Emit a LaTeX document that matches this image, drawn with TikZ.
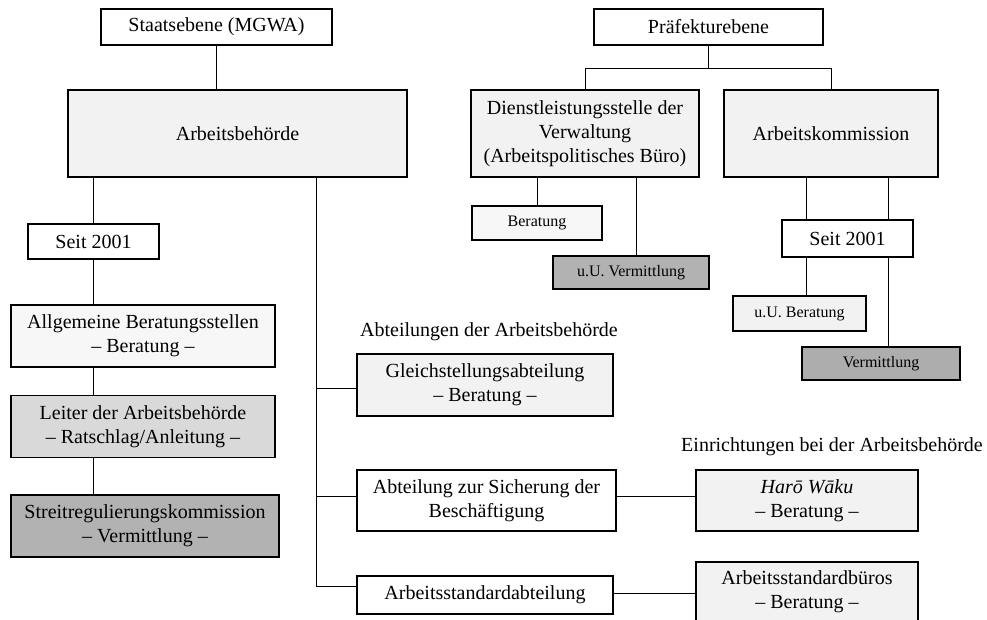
\documentclass[tikz,border=0pt]{standalone}
\usepackage{fontspec}
\setmainfont{Liberation Serif}
\usetikzlibrary{positioning,calc}
\definecolor{hellgrau}{gray}{0.95}
\definecolor{weissgrau}{gray}{0.97}
\definecolor{mittelgrau}{gray}{0.85}
\definecolor{dunkelgrau}{gray}{0.70}
\tikzset{
  amt/.style={
    rectangle,
    draw=black, line width=1.6pt,
    align=center,
    inner sep=2pt,
    font=\fontsize{20}{24}\selectfont},
  kleinamt/.style={amt, font=\fontsize{16}{19}\selectfont},
  linie/.style={draw, line width=0.9pt},
  beschriftung/.style={font=\fontsize{20}{24}\selectfont, inner sep=0pt},
}
\begin{document}
\begin{tikzpicture}[
    x=1pt, y=-1pt,
    gross/.style={amt, minimum width=#1, minimum height=87pt},
    mittel/.style={amt, minimum width=#1, minimum height=62pt},
    flach/.style={amt, minimum width=#1, minimum height=36pt},
    every node/.style={color=black}
    ]
    \useasboundingbox (0,0) rectangle (987,619);
    \clip (0,0) rectangle (987,619);

    % staatsebene
    \node[flach=231pt] (staat) at (216.5,27) {Staatsebene (MGWA)};
    \node[gross=339pt, fill=hellgrau] (behoerde) at (237.5,133.5) {Arbeitsbeh\"orde};
    \node[flach=131pt, minimum height=35pt] (seitL) at (93.5,241.5) {Seit 2001};
    \node[mittel=264pt, fill=weissgrau] (allg) at (143,336) {Allgemeine Beratungsstellen\\– Beratung –};
    \node[mittel=264pt, fill=mittelgrau] (leiter) at (143,426.5) {Leiter der Arbeitsbeh\"orde\\– Ratschlag/Anleitung –};
    \node[mittel=268pt, fill=dunkelgrau] (streit) at (145,526) {Streitregulierungskommission\\– Vermittlung –};

    % abteilungen
    \node[beschriftung] (abtlabel) at (489,332) {Abteilungen der Arbeitsbeh\"orde};
    \node[mittel=256pt, fill=hellgrau] (gleich) at (485,385) {Gleichstellungsabteilung\\– Beratung –};
    \node[mittel=259pt, minimum height=61pt] (sicher) at (486.5,500.5) {Abteilung zur Sicherung der\\Besch\"aftigung};
    \node[amt, minimum width=256pt, minimum height=38pt] (standard) at (485,595) {Arbeitsstandardabteilung};

    % einrichtungen
    \node[beschriftung] (einlabel) at (832,447) {Einrichtungen bei der Arbeitsbeh\"orde};
    \node[mittel=222pt, minimum height=61pt, fill=hellgrau] (harou) at (807,500.5) {\textit{Harō Wāku}\\– Beratung –};
    \node[mittel=222pt, minimum height=59pt, fill=hellgrau, anchor=north] (bueros) at (807,561) {Arbeitsstandardb\"uros\\– Beratung –};

    % praefekturebene
    \node[flach=229pt] (praef) at (708.5,27) {Pr\"afekturebene};
    \node[gross=228pt, fill=hellgrau] (dienst) at (585,133.5) {Dienstleistungsstelle der\\Verwaltung\\(Arbeitspolitisches B\"uro)};
    \node[gross=214pt, fill=hellgrau] (kommission) at (831,133.5) {Arbeitskommission};
    \node[kleinamt, minimum width=130pt, minimum height=34pt, fill=weissgrau] (beratD) at (537,223) {Beratung};
    \node[kleinamt, minimum width=156pt, minimum height=33pt, fill=dunkelgrau] (vermD) at (631,272.5) {u.U. Vermittlung};
    \node[flach=131pt, minimum height=37pt] (seitR) at (847.5,238.5) {Seit 2001};
    \node[kleinamt, minimum width=133pt, minimum height=35pt, fill=hellgrau] (uuberat) at (799.5,313.5) {u.U. Beratung};
    \node[kleinamt, minimum width=158pt, minimum height=33pt, fill=dunkelgrau!97!black] (vermK) at (881,363.5) {Vermittlung};

    % linien links
    \draw[linie] (staat.south) -- (staat.south |- behoerde.north);
    \draw[linie] (seitL.north) -- (seitL.north |- behoerde.south);
    \draw[linie] (seitL.south) -- (seitL.south |- allg.north);
    \draw[linie] (allg.south -| seitL) -- (leiter.north -| seitL);
    \draw[linie] (leiter.south -| seitL) -- (streit.north -| seitL);

    % stamm der abteilungen
    \coordinate (stamm) at (316,586);
    \draw[linie] (behoerde.south -| stamm) -- (stamm) -- (stamm -| standard.west);
    \draw[linie] ($(stamm |- gleich.west)+(0,3)$) -- ($(gleich.west)+(0,3)$);
    \draw[linie] ($(stamm |- sicher.west)+(0,-4)$) -- ($(sicher.west)+(0,-4)$);
    \draw[linie] ($(sicher.east)+(0,-4)$) -- ($(harou.west)+(0,-4)$);
    \draw[linie] ($(standard.east)+(0,-2)$) -- ($(standard.east -| bueros.west)+(0,-2)$);

    % linien rechts
    \draw[linie] (praef.south) -- ++(0,23) coordinate (gabel);
    \draw[linie] (dienst.north) -- (dienst.north |- gabel) -- (kommission.north |- gabel) -- (kommission.north);
    \draw[linie] (beratD.north) -- (beratD.north |- dienst.south);
    \coordinate (vermlinie) at (636,0);
    \draw[linie] (vermlinie |- dienst.south) -- (vermlinie |- vermD.north);
    \coordinate (links) at (806,0);
    \coordinate (rechts) at (888,0);
    \draw[linie] (links |- kommission.south) -- (links |- seitR.north);
    \draw[linie] (links |- seitR.south) -- (links |- uuberat.north);
    \draw[linie] (rechts |- kommission.south) -- (rechts |- seitR.north);
    \draw[linie] (rechts |- seitR.south) -- (rechts |- vermK.north);

\end{tikzpicture}
\end{document}
